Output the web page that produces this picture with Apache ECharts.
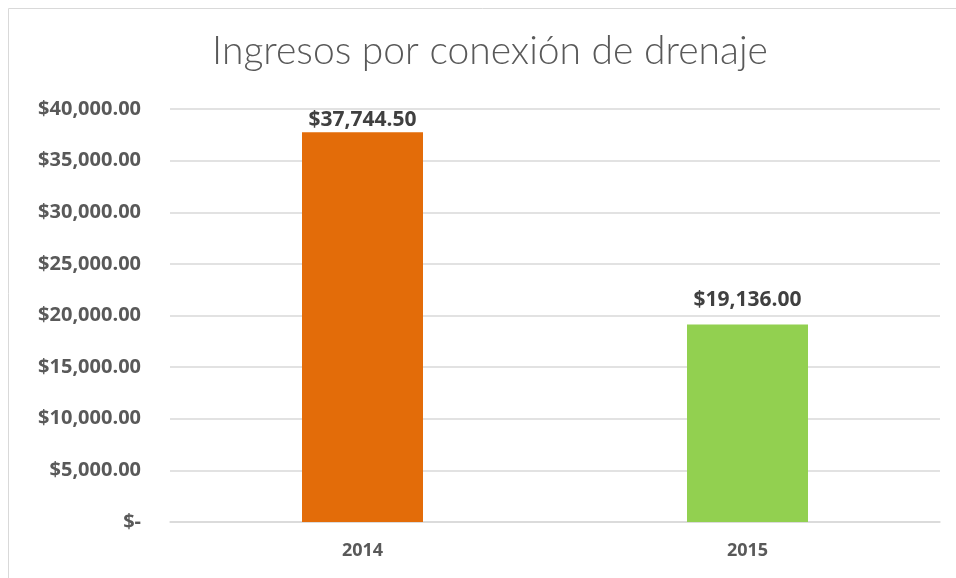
<!DOCTYPE html>
<html><head><meta charset="utf-8">
<script src="https://cdn.jsdelivr.net/npm/echarts@6/dist/echarts.min.js"></script>
<style>html,body{margin:0;padding:0;background:#fff}#c{width:956px;height:578px}</style>
</head><body><div id="c"></div>
<script>
const categories = ['2014', '2015'];
const values = [37744.50, 19136.00];
const barColors = ['#E36C09', '#92D050'];
const yTicks = [0, 5000, 10000, 15000, 20000, 25000, 30000, 35000, 40000];

function money(v) {
  if (v === 0) return '$-';
  return '$' + v.toLocaleString('en-US', {minimumFractionDigits: 2, maximumFractionDigits: 2});
}
const labelDistances = [2, 14];
const chart = echarts.init(document.getElementById('c'));
chart.setOption({
  animation: false,
  graphic: [{
    type: 'rect', shape: {x: 8.5, y: 8.5, width: 1000, height: 1000},
    style: {fill: 'none', stroke: '#d9d9d9', lineWidth: 1}, silent: true
  }],
  title: {
    text: 'Ingresos por conexión de drenaje', left: 485, top: 27, textAlign: 'center',
    textStyle: {fontFamily: 'Lato', fontWeight: 300, fontSize: 39, color: '#595959'}
  },
  grid: {left: 170, right: 16, top: 109, bottom: 56},
  xAxis: {
    type: 'category', data: categories,
    axisLine: {show: true, lineStyle: {color: '#d9d9d9', width: 1.5}},
    axisTick: {show: false},
    axisLabel: {margin: 20, fontFamily: 'Open Sans', fontWeight: 'bold', fontSize: 18, color: '#595959'}
  },
  yAxis: {
    type: 'value', min: yTicks[0], max: yTicks[yTicks.length - 1], interval: 5000,
    axisLine: {show: false}, axisTick: {show: false},
    splitLine: {lineStyle: {color: '#d9d9d9', width: 1.5}},
    axisLabel: {margin: 29, fontFamily: 'Open Sans', fontWeight: 'bold', fontSize: 20, color: '#595959',
      formatter: money}
  },
  series: [{
    type: 'bar', barWidth: 121,
    data: values.map((v, i) => ({value: v, itemStyle: {color: barColors[i]},
      label: {distance: labelDistances[i]}})),
    label: {show: true, position: 'top', formatter: p => money(p.value),
      fontFamily: 'Open Sans', fontWeight: 'bold', fontSize: 21, color: '#404040'}
  }]
});
</script></body></html>
